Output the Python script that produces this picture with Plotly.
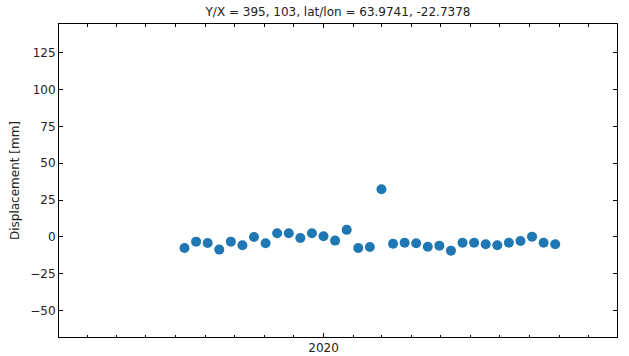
import plotly.graph_objects as go

dates = ["2019-08-10", "2019-08-22", "2019-09-03", "2019-09-15", "2019-09-27",
         "2019-10-09", "2019-10-21", "2019-11-02", "2019-11-14", "2019-11-26",
         "2019-12-08", "2019-12-20", "2020-01-01", "2020-01-13", "2020-01-25",
         "2020-02-06", "2020-02-18", "2020-03-01", "2020-03-13", "2020-03-25",
         "2020-04-06", "2020-04-18", "2020-04-30", "2020-05-12", "2020-05-24",
         "2020-06-05", "2020-06-17", "2020-06-29", "2020-07-11", "2020-07-23",
         "2020-08-04", "2020-08-16", "2020-08-28"]
displacement = [-7.5, -3.2, -4.1, -8.6, -3.2, -5.6, 0.0, -4.3, 2.5, 2.5,
                -0.7, 2.5, 0.5, -2.5, 4.8, -7.5, -6.8, 32.4, -4.6, -3.9,
                -4.3, -6.6, -5.9, -9.3, -3.9, -3.9, -5.0, -5.6, -3.9, -2.7,
                0.2, -3.9, -5.0]
title_text = "Y/X = 395, 103, lat/lon = 63.9741, -22.7378"
y_label = "Displacement [mm]"

fig = go.Figure(go.Scatter(
    x=dates, y=displacement, mode="markers",
    marker=dict(color="#1f77b4", size=10),
))

font = dict(family="DejaVu Sans", size=12, color="#222222")
fig.update_layout(
    width=629, height=356,
    margin=dict(l=59, r=12, t=24, b=19, autoexpand=False),
    paper_bgcolor="white", plot_bgcolor="white",
    font=font,
    showlegend=False,
    title=dict(text=title_text, x=0.5, xref="paper", xanchor="center",
               y=1 - 12 / 356, yref="container", yanchor="middle",
               font=dict(family="DejaVu Sans", size=12, color="#222222")),
)
fig.update_xaxes(
    range=["2019-04-02", "2020-10-31"],
    tickmode="linear", tick0="2020-01-01", dtick="M12", tickformat="%Y",
    ticks="inside", ticklen=4, tickcolor="black",
    minor=dict(tickmode="linear", tick0="2019-01-01", dtick="M1",
               ticks="inside", ticklen=2.5, tickcolor="black", showgrid=False),
    showline=True, linecolor="black", linewidth=1, mirror="allticks",
    showgrid=False, zeroline=False, automargin=False,
)
fig.update_yaxes(
    range=[-67.9, 144.5],
    tickmode="linear", tick0=0, dtick=25,
    ticks="inside", ticklen=4, tickcolor="black",
    showline=True, linecolor="black", linewidth=1, mirror="allticks",
    showgrid=False, zeroline=False, automargin=False,
    title=dict(text=y_label, standoff=8, font=font),
)

fig.write_html("out.html")
